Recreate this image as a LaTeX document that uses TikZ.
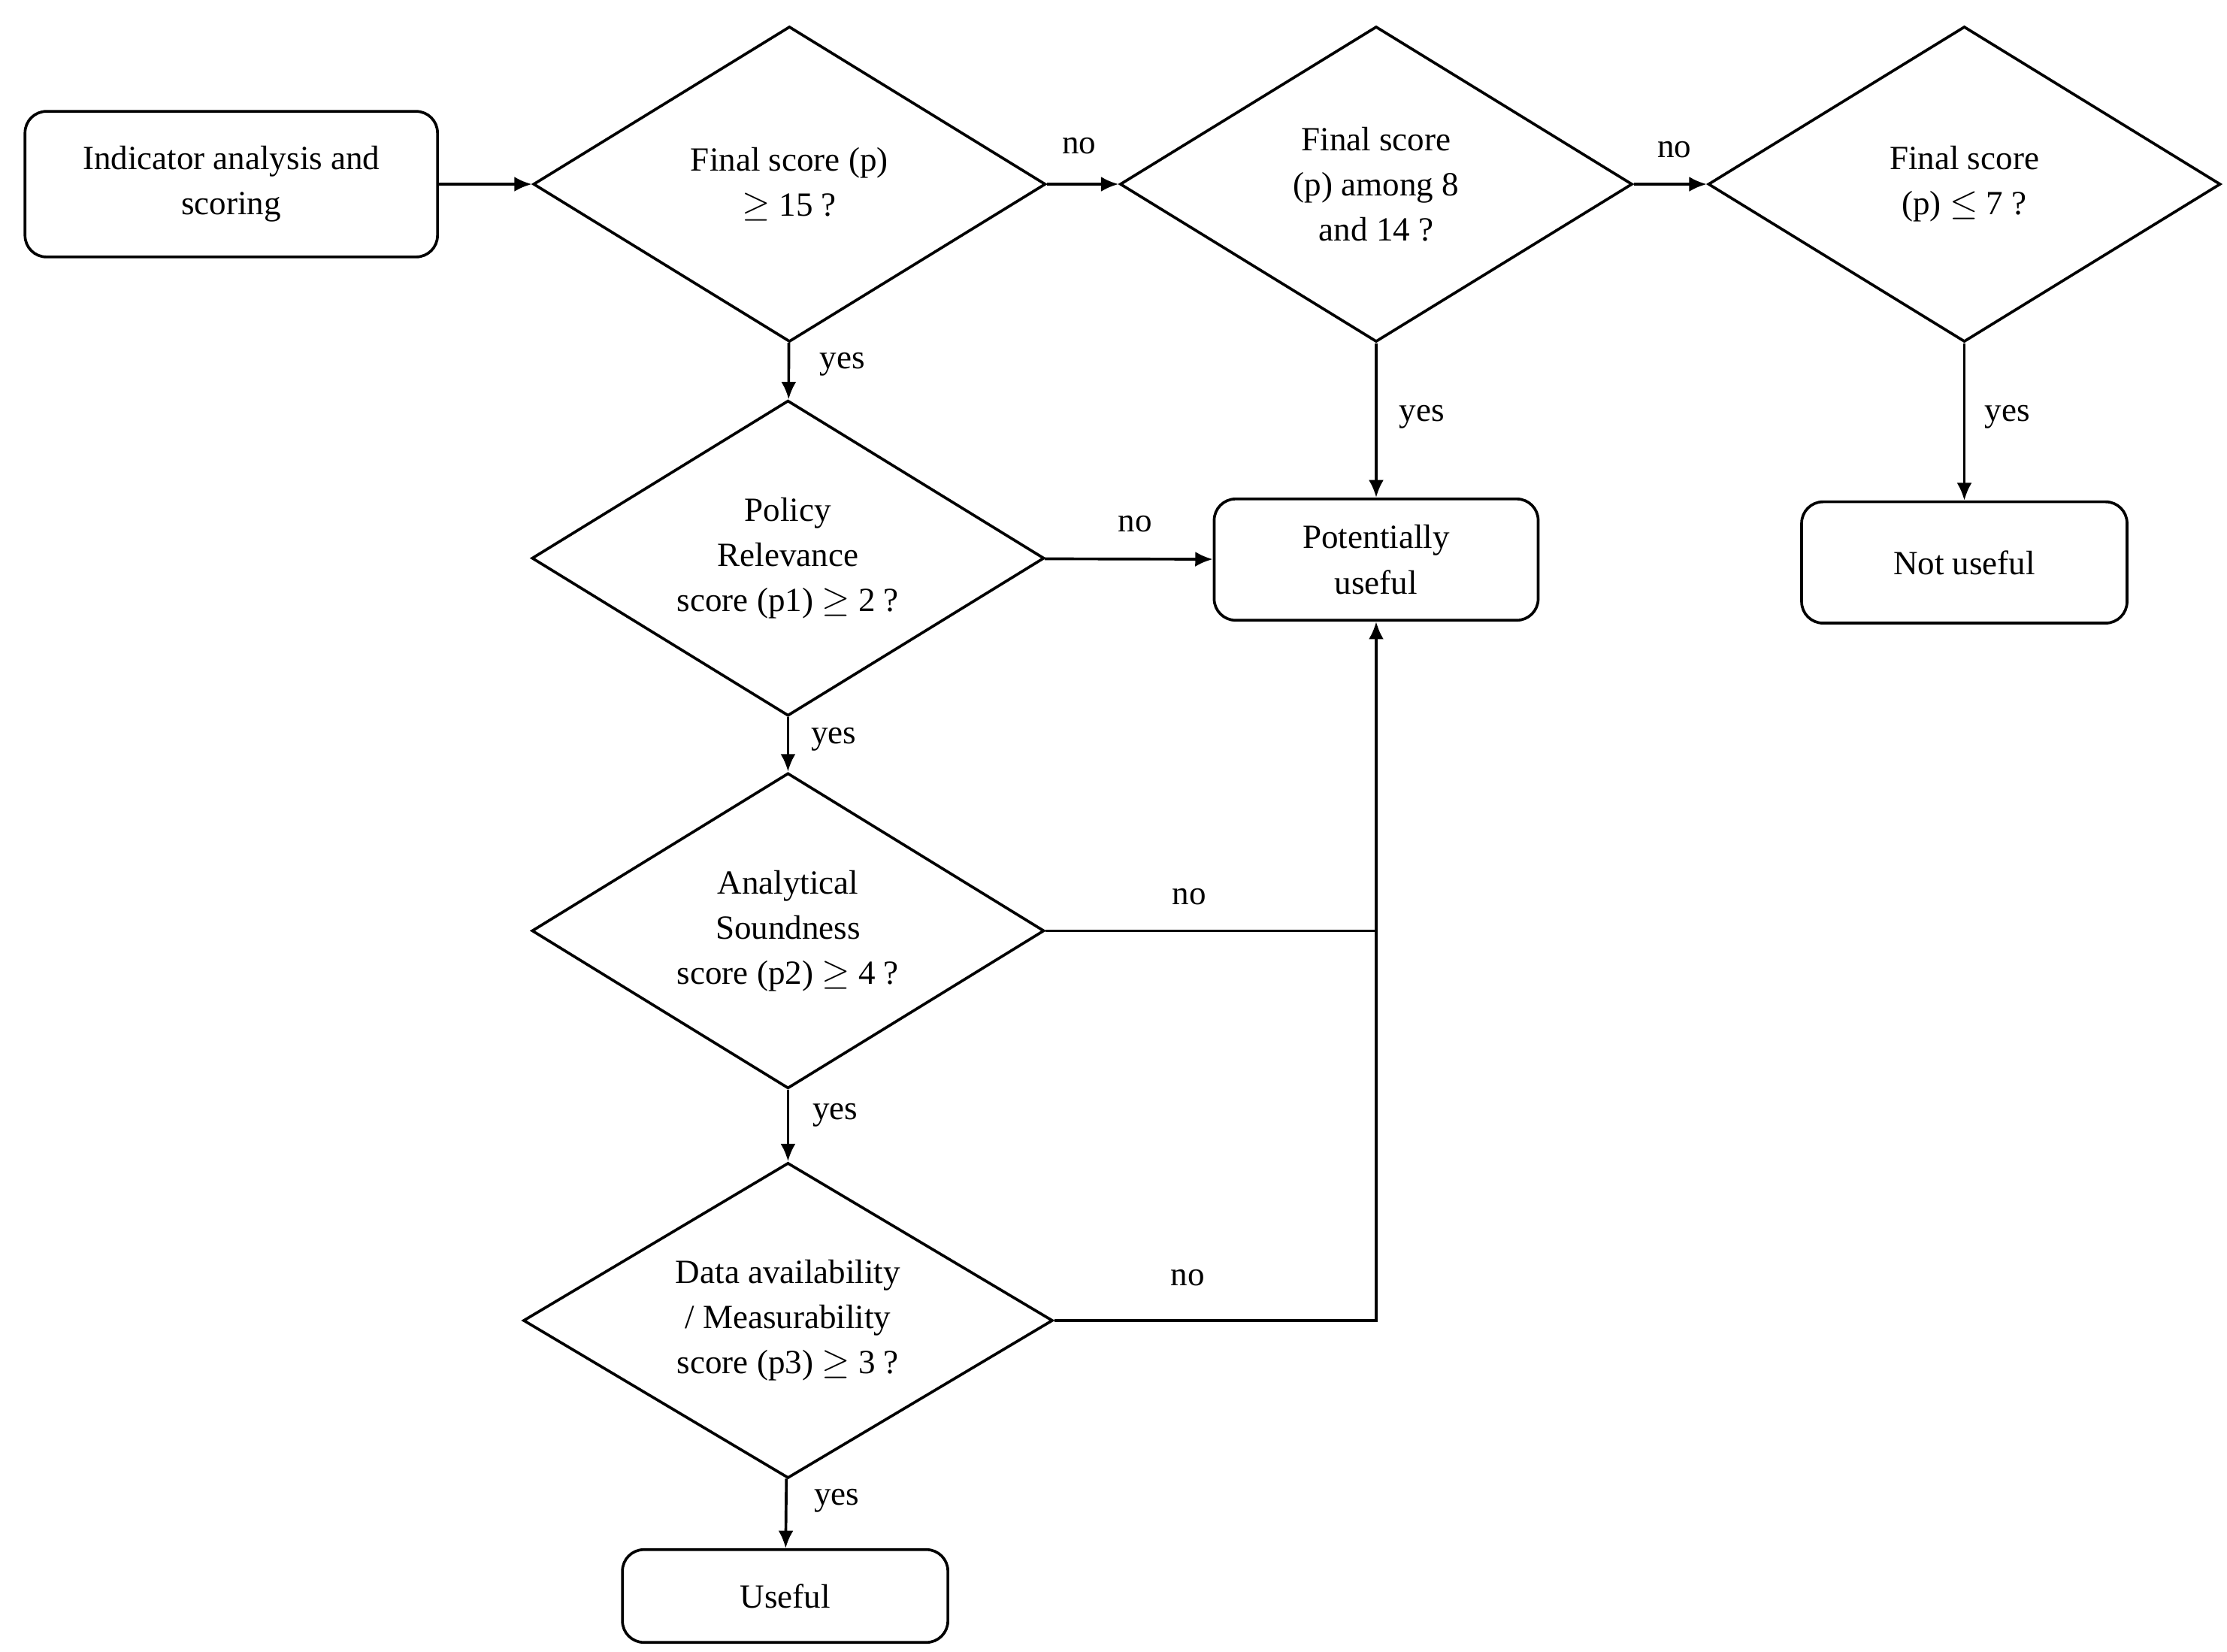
\documentclass[tikz,border=0pt]{standalone}
\usepackage{fontspec}
\setmainfont{Liberation Serif}
\usetikzlibrary{shapes.geometric,arrows.meta}
\begin{document}
\begin{tikzpicture}[x=0.02cm,y=-0.02cm,
  every node/.style={font=\fontsize{13.5}{18}\selectfont},
  box/.style={draw,line width=1.1pt,rounded corners=0.3cm,align=center,inner sep=0pt},
  dia/.style={draw,line width=1.1pt,diamond,aspect=1.62,minimum width=7.18cm,minimum height=4.42cm,align=center,inner sep=0pt},
  ln/.style={line width=1.1pt},
  ar/.style={ln,-{Latex[length=7pt,width=6pt]}},
  lab/.style={inner sep=1pt}]
\useasboundingbox[fill=white] (0,0) rectangle (1560,1157);
\node[box,minimum width=5.78cm,minimum height=2.04cm] (start) at (162,129) {Indicator analysis and\\scoring};
\node[dia] (d1) at (553,129) {Final score (p)\\$\geq$ 15 ?};
\node[dia] (d2) at (964,129) {Final score\\(p) among 8\\and 14 ?};
\node[dia] (d3) at (1376,129) {Final score\\(p) $\leq$ 7 ?};
\node[dia] (d4) at (552,391) {Policy\\Relevance\\score (p1) $\geq$ 2 ?};
\node[dia] (d5) at (552,652) {Analytical\\Soundness\\score (p2) $\geq$ 4 ?};
\node[dia,minimum width=7.42cm] (d6) at (552,925) {Data availability\\/ Measurability\\score (p3) $\geq$ 3 ?};
\node[box,minimum width=4.54cm,minimum height=1.7cm] (pu) at (964,392) {Potentially\\useful};
\node[box,minimum width=4.56cm,minimum height=1.7cm] (nu) at (1376,394) {Not useful};
\node[box,minimum width=4.56cm,minimum height=1.3cm] (u) at (550,1118) {Useful};
\draw[ar] (start) -- (d1);
\draw[ar] (d1) -- (d2);
\draw[ar] (d2) -- (d3);
\draw[ar] (d1) -- (d4);
\draw[ar] (d2) -- (pu);
\draw[ar] (d3) -- (nu);
\draw[ar] (d4) -- (pu);
\draw[ar] (d4) -- (d5);
\draw[ar] (d5) -- (d6);
\draw[ar] (d6) -- (u);
\draw[ar] (d6.east) -| (pu.south);
\draw[ln] (d5.east) -- (pu.south |- d5.east);
\node[lab] (n1) at (756,102) {no};
\node[lab] (n2) at (1173,105) {no};
\node[lab] (n3) at (795,367) {no};
\node[lab] (n4) at (833,628) {no};
\node[lab] (n5) at (832,895) {no};
\node[lab] (y1) at (590,255) {yes};
\node[lab] (y2) at (996,292) {yes};
\node[lab] (y3) at (1406,292) {yes};
\node[lab] (y4) at (584,518) {yes};
\node[lab] (y5) at (585,781) {yes};
\node[lab] (y6) at (586,1051) {yes};
\end{tikzpicture}
\end{document}
